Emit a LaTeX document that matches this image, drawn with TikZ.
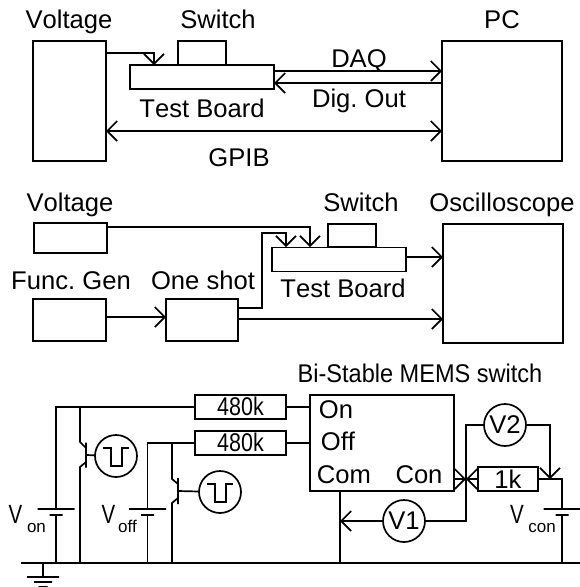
\documentclass[tikz,border=0pt]{standalone}
\usepackage{fontspec}
\setmainfont[Kerning=Off]{Liberation Sans}
\usetikzlibrary{arrows.meta,calc}
\begin{document}
\frenchspacing
\begin{tikzpicture}[
  x=1pt, y=-1pt, line width=1.7pt,
  font=\fontsize{25.6}{30}\selectfont,
  box/.style={draw, inner sep=0pt, outer sep=0pt},
  txt/.style={inner sep=0pt, anchor=base},
  subs/.style={inner sep=0pt, anchor=base, font=\fontsize{17}{20}\selectfont},
  meter/.style={draw, circle, inner sep=0pt, minimum size=42pt, outer sep=0pt},
  plate/.style={draw, inner sep=0pt, outer sep=0pt, minimum height=0pt},
  bar/.style={draw, inner sep=0pt, outer sep=0pt, minimum width=0pt},
  pulse/.pic={\draw (-13,-8) -- (-5,-8) -- (-5,10) -- (6,10) -- (6,-8) -- (13,-8);},
  >={Straight Barb[length=10pt,width=20pt]}]
\useasboundingbox (0,0) rectangle (580,587);
\node[box, minimum width=73pt, minimum height=120pt] (volt) at (69.5,101) {};
\node[box, minimum width=144pt, minimum height=24pt] (board) at (202,77) {};
\node[box, minimum width=48pt, minimum height=24pt] (sw) at (202,53) {};
\node[box, minimum width=120pt, minimum height=120pt] (pc) at (502,101) {};
\node[txt] (voltlab) at (69,28) {Voltage};
\node[txt] (swlab) at (218,28) {Switch};
\node[txt] (boardlab) at (202,117) {Test Board};
\node[txt] (pclab) at (502,28) {PC};
\node[txt] (daqlab) at (359,67) {DAQ};
\node[txt] (diglab) at (359,107) {Dig. Out};
\node[txt] (gpiblab) at (239,166) {GPIB};
\coordinate (b1) at (154,65);
\draw[->] (volt.east |- 0,53) -| (b1);
\draw[->] (board.east |- 0,71) -- (pc.west |- 0,71);
\draw[->] (pc.west |- 0,83) -- (board.east |- 0,83);
\draw[<->] (volt.east |- 0,131) -- (pc.west |- 0,131);
\node[box, minimum width=73pt, minimum height=30pt] (volt2) at (70.5,238) {};
\node[box, minimum width=73pt, minimum height=42pt] (gen) at (69.5,320) {};
\node[box, minimum width=72pt, minimum height=42pt] (shot) at (202,320) {};
\node[box, minimum width=134pt, minimum height=24pt] (board2) at (339,259.5) {};
\node[box, minimum width=48pt, minimum height=23pt] (sw2) at (352,235.5) {};
\node[box, minimum width=120pt, minimum height=119pt] (scope) at (503,283.5) {};
\node[txt] (volt2lab) at (70,211) {Voltage};
\node[txt] (genlab) at (71,289) {Func. Gen};
\node[txt] (shotlab) at (203,289) {One shot};
\node[txt] (sw2lab) at (361,211) {Switch};
\node[txt] (scopelab) at (502,211) {Oscilloscope};
\node[txt] (board2lab) at (343,297) {Test Board};
\coordinate (b2) at (310,247);
\coordinate (b3) at (286,247);
\coordinate (k1) at (262,233);
\draw[->] (volt2.east |- 0,227) -| (b2);
\draw[->] (shot.east |- 0,308) -| (k1) -| (b3);
\draw[->] (gen.east |- 0,317) -- (shot.west |- 0,317);
\draw[->] (shot.east |- 0,319) -- (scope.west |- 0,319);
\draw[->] (board2.east |- 0,257) -- (scope.west |- 0,257);
\node[txt] (memslab) at (420,382) {\scalebox{.92}[1]{Bi-Stable MEMS switch}};
\node[box, minimum width=144pt, minimum height=96pt] (mems) at (382,443) {};
\node[box, minimum width=91pt, minimum height=24pt] (ron) at (240.5,407) {\raisebox{1.5pt}{\scalebox{.84}[1]{480k}}};
\node[box, minimum width=91pt, minimum height=24pt] (roff) at (240.5,443) {\raisebox{1pt}{\scalebox{.84}[1]{480k}}};
\node[box, minimum width=60pt, minimum height=24pt] (rcon) at (508,479) {1k};
\node[txt] (onlab) at (336,418) {On};
\node[txt] (offlab) at (338,450) {Off};
\node[txt] (comlab) at (344,483) {Com};
\node[txt] (conlab) at (419,483) {Con};
\node[meter] (pon) at (116,456) {};
\node[meter] (poff) at (220,492) {};
\node[meter] (vone) at (404,521) {V1};
\node[meter] (vtwo) at (505,425) {V2};
\pic at (pon) {pulse};
\pic at (poff) {pulse};
\node[plate, minimum width=37pt] (bon) at (56,509) {};
\node[plate, minimum width=13pt] (bon2) at (56,515) {};
\node[plate, minimum width=37pt] (boff) at (147.5,509) {};
\node[plate, minimum width=13pt] (boff2) at (147.5,515) {};
\node[plate, minimum width=37pt] (bcon) at (562,509) {};
\node[plate, minimum width=13pt] (bcon2) at (562,515) {};
\node[plate, minimum width=32pt] (g1) at (43,577) {};
\node[plate, minimum width=18pt] (g2) at (43,582) {};
\node[plate, minimum width=9pt] (g3) at (43,587) {};
\node[bar, minimum height=25pt] (qon) at (86,455) {};
\node[bar, minimum height=26pt] (qoff) at (178,491) {};
\node[txt] (vonlab) at (15.5,523) {\scalebox{.8}[1.03]{V}};
\node[subs] (vonsub) at (36.5,532) {on};
\node[txt] (vofflab) at (108.5,523) {\scalebox{.8}[1.03]{V}};
\node[subs] (voffsub) at (127.5,532) {off};
\node[txt] (vconlab) at (517,523) {\scalebox{.8}[1.03]{V}};
\node[subs] (vconsub) at (542,532) {con};
\coordinate (gl) at (21,563);
\coordinate (gr) at (580,563);
\coordinate (c1) at (80,407);
\coordinate (e1) at (80,563);
\coordinate (c2) at (172,443);
\coordinate (e2) at (172,563);
\coordinate (j) at (466,479);
\coordinate (d1) at (340,521);
\coordinate (d2) at (550,479);
\draw (gl) -- (gr);
\draw (43,563) -- (g1);
\draw (ron.west) -| (bon);
\draw (bon2) -- (bon2 |- gl);
\draw (roff.west) -| (boff);
\draw (boff2) -- (boff2 |- gl);
\draw (ron.east) -- (mems.west |- ron.east);
\draw (roff.east) -- (mems.west |- roff.east);
\draw (c1) -- ++(0,35) -- ($(qon.center)+(0,-7)$);
\draw (e1) -- ++(0,-96) -- ($(qon.center)+(0,7)$);
\draw (qon) -- (pon);
\draw (c2) -- ++(0,36) -- ($(qoff.center)+(0,-7)$);
\draw (e2) -- ++(0,-60) -- ($(qoff.center)+(0,7)$);
\draw (qoff) -- (poff);
\draw (mems.south -| d1) -- (d1 |- gl);
\draw[->] (vone) -- (d1);
\draw (vone) -| (j);
\draw (j) |- (vtwo);
\draw[->] (mems.east |- j) -- (j);
\draw[->] (rcon.west) -- (j);
\draw[->] (vtwo) -| (d2);
\draw (rcon.east) -| (bcon);
\draw (bcon2) -- (bcon2 |- gr);
\end{tikzpicture}
\end{document}
